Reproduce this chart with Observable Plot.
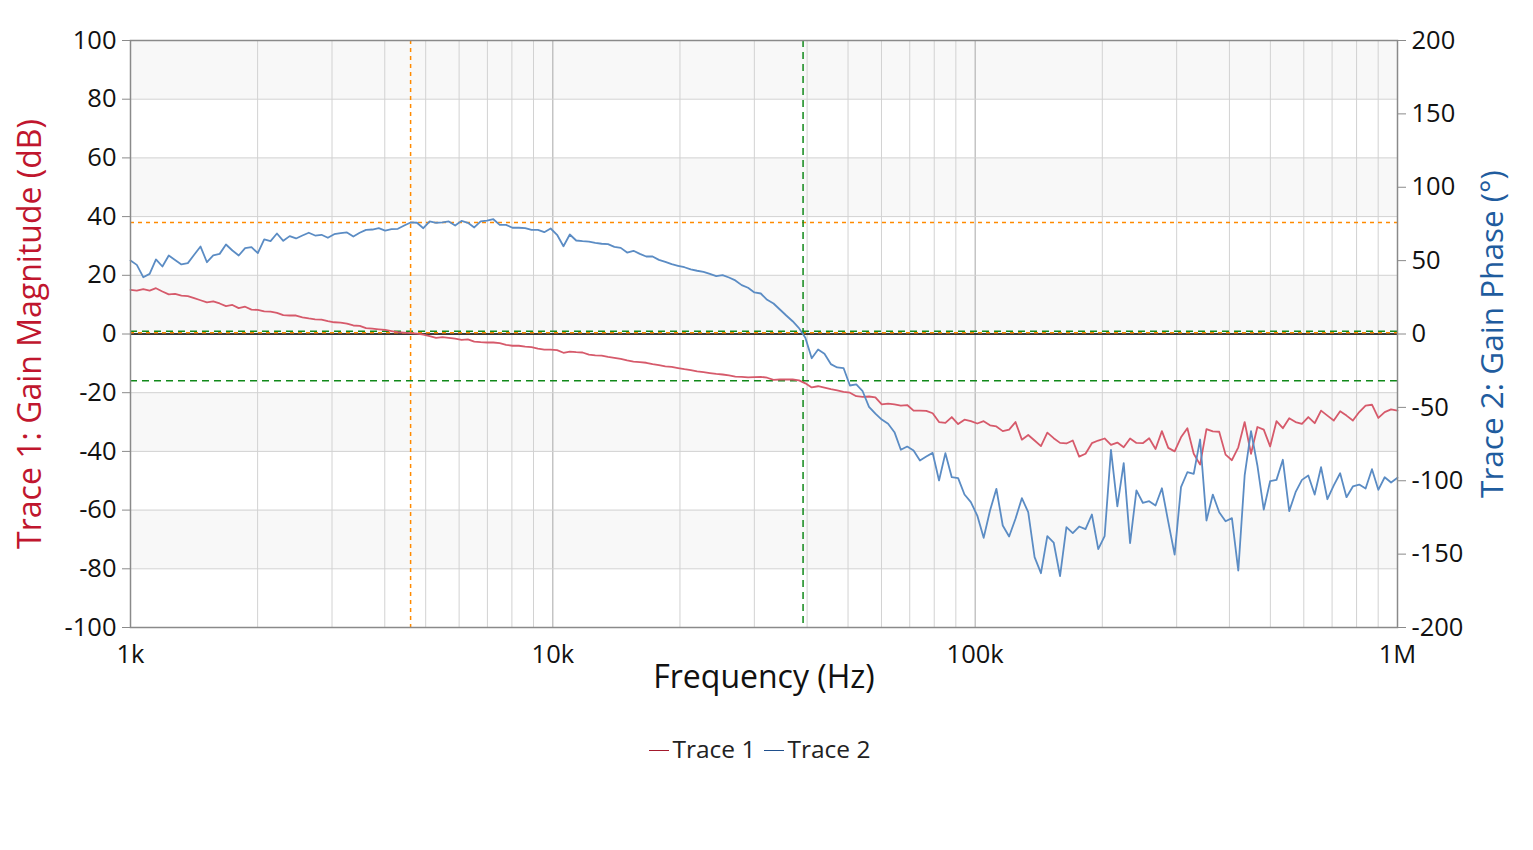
<!DOCTYPE html>
<html>
<head>
<meta charset="utf-8">
<script src="https://cdn.jsdelivr.net/npm/d3@7"></script>
<script src="https://cdn.jsdelivr.net/npm/@observablehq/plot@0.6"></script>
<style>
  html, body { margin: 0; padding: 0; background: #fff; }
  #chart svg { display: block; }
  #legend { width: 1519px; padding-right: 14px; text-align: center; font-family: "Open Sans", sans-serif; font-size: 24.5px; color: #222; padding-top: 28px; line-height: 32px; }
  #legend .sw { display: inline-block; width: 20px; height: 0; border-top: 1.5px solid; vertical-align: middle; margin: 0 4px 0 0; position: relative; top: -1px; }
  #legend .item { margin: 0 4px; }
</style>
</head>
<body>
<div id="chart"></div>
<div id="legend"></div>
<script>
// Frequency sweep points (Hz)
const freq = [
1000, 1035, 1072, 1110, 1149, 1190, 1232, 1275, 1320, 1367,
1415, 1465, 1517, 1570, 1626, 1683, 1743, 1804, 1868, 1934,
2002, 2073, 2146, 2222, 2300, 2382, 2466, 2553, 2643, 2736,
2833, 2933, 3036, 3144, 3255, 3370, 3489, 3612, 3739, 3871,
4008, 4150, 4296, 4448, 4605, 4768, 4936, 5110, 5291, 5478,
5671, 5871, 6079, 6293, 6516, 6746, 6984, 7230, 7486, 7750,
8024, 8307, 8601, 8904, 9219, 9544, 9881, 10234, 10596, 10970,
11358, 11759, 12174, 12604, 13049, 13510, 13987, 14481, 14993, 15522,
16070, 16638, 17225, 17834, 18464, 19116, 19791, 20489, 21213, 21962,
22738, 23541, 24372, 25233, 26124, 27047, 28002, 28991, 30015, 31074,
32172, 33308, 34485, 35702, 36963, 38269, 39620, 41019, 42468, 43968,
45520, 47128, 48792, 50515, 52299, 54146, 56058, 58038, 60088, 62209,
64406, 66681, 69036, 71474, 73998, 76611, 79316, 82117, 85017, 88019,
91128, 94346, 97677, 101160, 104740, 108440, 112270, 116230, 120340, 124590,
128990, 133540, 138260, 143140, 148200, 153430, 158850, 164460, 170270, 176280,
182510, 188950, 195630, 202540, 209690, 217090, 224760, 232700, 240920, 249420,
258230, 267350, 276790, 286570, 296690, 307170, 318020, 329250, 340880, 352910,
365370, 378280, 391640, 405470, 419790, 434610, 449960, 465850, 482300, 499330,
516970, 535220, 554120, 573690, 593950, 614930, 636640, 659120, 682400, 706500,
731450, 757280, 784020, 811700, 840370, 870050, 900770, 932580, 965510, 1000000
];

// Trace 1: Gain Magnitude (dB)
const trace1 = [
15.0, 14.8, 15.3, 14.8, 15.6, 14.5, 13.5, 13.7, 13.1, 12.9,
12.2, 11.5, 10.8, 11.1, 10.4, 9.5, 9.9, 8.8, 9.3, 8.3,
8.2, 7.7, 7.6, 7.2, 6.4, 6.3, 6.3, 5.7, 5.3, 5.0,
4.9, 4.4, 4.0, 3.9, 3.5, 2.9, 2.8, 2.0, 1.8, 1.6,
1.4, 1.0, 0.6, 0.5, 0.3, 0.1, -0.2, -0.7, -1.3, -1.1,
-1.3, -1.6, -2.0, -1.8, -2.6, -2.8, -2.9, -2.9, -3.1, -3.7,
-4.0, -4.0, -4.3, -4.5, -5.0, -5.3, -5.3, -5.5, -6.4, -6.0,
-6.2, -6.3, -7.0, -7.3, -7.4, -7.8, -8.1, -8.5, -9.0, -9.4,
-9.6, -9.8, -10.3, -10.6, -11.0, -11.2, -11.6, -12.0, -12.3, -12.7,
-13.0, -13.3, -13.6, -13.8, -14.1, -14.5, -14.6, -14.8, -14.7, -14.6,
-14.9, -15.6, -15.5, -15.5, -15.5, -15.8, -16.8, -18.2, -17.8, -18.3,
-18.8, -19.2, -19.7, -20.0, -21.2, -21.4, -21.3, -21.6, -24.0, -23.7,
-24.0, -24.4, -24.2, -26.1, -26.1, -26.2, -27.0, -30.0, -30.3, -28.3,
-30.7, -29.2, -29.7, -30.5, -29.7, -31.1, -31.5, -33.1, -32.6, -30.0,
-36.0, -34.4, -36.3, -38.2, -33.6, -35.5, -37.1, -37.3, -36.3, -41.8,
-40.8, -37.2, -36.3, -35.6, -37.8, -37.0, -38.6, -35.6, -37.1, -37.2,
-35.5, -39.2, -33.1, -38.8, -40.0, -35.2, -32.1, -40.8, -44.5, -32.4,
-33.2, -33.3, -41.1, -43.0, -38.6, -30.0, -40.8, -31.7, -32.6, -38.3,
-29.7, -32.1, -28.7, -30.0, -30.6, -28.3, -30.4, -26.1, -27.8, -29.5,
-26.3, -27.8, -29.5, -26.6, -24.4, -24.1, -28.6, -26.6, -25.7, -26.1
];

// Trace 2: Gain Phase (degrees)
const trace2 = [
50.1, 47.1, 38.7, 41.0, 50.8, 46.0, 53.5, 50.5, 47.4, 48.3,
54.0, 59.6, 48.9, 53.5, 54.6, 61.0, 56.9, 53.5, 58.5, 59.2,
55.1, 64.4, 63.3, 68.5, 63.5, 66.7, 65.1, 67.1, 69.0, 67.1,
67.6, 65.6, 68.0, 68.7, 69.2, 66.4, 69.0, 71.0, 71.2, 72.1,
70.5, 71.4, 71.7, 73.9, 76.0, 75.8, 72.1, 76.7, 75.8, 76.0,
76.7, 73.9, 77.1, 75.8, 72.6, 76.7, 77.3, 78.2, 74.4, 74.4,
72.4, 72.4, 72.1, 71.0, 71.0, 69.4, 71.9, 67.6, 59.8, 67.8,
63.7, 63.3, 63.0, 62.1, 61.5, 61.2, 59.4, 58.7, 55.5, 56.7,
54.6, 52.8, 52.8, 50.5, 49.2, 47.6, 46.5, 45.5, 44.0, 43.1,
42.4, 41.0, 39.5, 40.1, 38.5, 36.5, 33.3, 31.5, 28.3, 27.6,
23.3, 20.8, 16.7, 12.6, 8.7, 4.0, -2.6, -16.5, -10.6, -13.5,
-20.5, -22.8, -23.2, -35.1, -34.4, -39.0, -49.6, -54.2, -58.3, -61.2,
-66.9, -78.9, -76.7, -79.4, -86.2, -83.5, -81.0, -99.8, -81.2, -97.6,
-98.2, -109.4, -114.6, -123.7, -138.9, -120.3, -105.5, -130.5, -138.0, -125.9,
-111.9, -121.4, -152.1, -163.0, -137.8, -142.1, -165.0, -131.6, -135.7, -131.2,
-133.0, -123.0, -146.6, -137.8, -78.9, -117.5, -88.0, -142.5, -106.6, -115.0,
-113.9, -116.9, -105.1, -128.0, -150.3, -104.4, -94.2, -95.3, -71.9, -127.1,
-109.4, -121.4, -127.6, -125.5, -161.2, -96.4, -66.2, -89.6, -119.6, -100.3,
-99.4, -85.7, -120.7, -107.8, -99.4, -96.4, -109.4, -90.8, -112.6, -103.2,
-94.9, -111.2, -103.9, -102.6, -105.3, -92.1, -106.2, -97.6, -101.2, -98.0
];

// Axis ticks
const gainTicks = [-100, -80, -60, -40, -20, 0, 20, 40, 60, 80, 100];
const phaseTicks = [-200, -150, -100, -50, 0, 50, 100, 150, 200];
const freqTicks = [1e3, 1e4, 1e5, 1e6];
const freqTickLabels = ["1k", "10k", "100k", "1M"];
const minorFreqGrid = [2e3,3e3,4e3,5e3,6e3,7e3,8e3,9e3, 2e4,3e4,4e4,5e4,6e4,7e4,8e4,9e4, 2e5,3e5,4e5,5e5,6e5,7e5,8e5,9e5];
const majorFreqGrid = [1e4, 1e5];
const bands = [[80,100],[40,60],[0,20],[-40,-20],[-80,-60]];

// Cursor markers
const gainCrossoverHz = 4605;   // orange vertical
const phaseMarginDeg = 76;      // orange horizontal (phase axis)
const orangeZeroDb = 0.4;       // orange horizontal near 0 dB
const phaseCrossoverHz = 39130; // green vertical
const gainMarginDb = -15.9;     // green horizontal
const greenZeroDb = 0.95;       // green horizontal near 0

const data = freq.map((f, i) => ({f, gain: trace1[i], phase: trace2[i]}));
const phaseToY = p => p / 2; // phase axis -200..200 maps onto -100..100

const red = "#d65a6b", blue = "#5b8cc4";
const orange = "#ff8a00", green = "#11891a";

const plot = Plot.plot({
  width: 1533,
  height: 705,
  marginLeft: 130,
  marginRight: 136,
  marginTop: 40,
  marginBottom: 78,
  style: {fontFamily: "'Open Sans', sans-serif", fontSize: "25.5px", color: "#111", background: "#fff"},
  x: {type: "log", domain: [1e3, 1e6]},
  y: {domain: [-100, 100]},
  marks: [
    Plot.rect(bands, {x1: () => 1e3, x2: () => 1e6, y1: d => d[0], y2: d => d[1], fill: "#f8f8f8"}),
    Plot.ruleX(minorFreqGrid, {stroke: "#d2d2d2", strokeWidth: 1}),
    Plot.ruleX(majorFreqGrid, {stroke: "#a8a8a8", strokeWidth: 1}),
    Plot.ruleY(gainTicks, {stroke: "#d2d2d2", strokeWidth: 1}),
    Plot.ruleY([0], {stroke: "#000", strokeWidth: 1.6}),
    Plot.ruleY([orangeZeroDb], {stroke: orange, strokeWidth: 1.5, strokeDasharray: "4,4"}),
    Plot.ruleY([greenZeroDb], {stroke: green, strokeWidth: 1.5, strokeDasharray: "7,5"}),
    Plot.ruleY([phaseToY(phaseMarginDeg)], {stroke: orange, strokeWidth: 1.5, strokeDasharray: "4,4"}),
    Plot.ruleY([gainMarginDb], {stroke: green, strokeWidth: 1.5, strokeDasharray: "7,5"}),
    Plot.ruleX([gainCrossoverHz], {stroke: orange, strokeWidth: 1.5, strokeDasharray: "4,4"}),
    Plot.ruleX([phaseCrossoverHz], {stroke: green, strokeWidth: 1.5, strokeDasharray: "7,5"}),
    Plot.line(data, {x: "f", y: "gain", stroke: red, strokeWidth: 1.8}),
    Plot.line(data, {x: "f", y: d => phaseToY(d.phase), stroke: blue, strokeWidth: 1.8}),
    Plot.frame({stroke: "#8a8a8a", strokeWidth: 1.5}),
    Plot.axisY(gainTicks, {anchor: "left", tickSize: 8, tickPadding: 6, stroke: "#8a8a8a", fill: "#111", tickFormat: d => String(d), label: null}),
    Plot.axisY(phaseTicks.map(phaseToY), {anchor: "right", tickSize: 8, tickPadding: 6, stroke: "#8a8a8a", fill: "#111", tickFormat: d => String(d * 2), label: null}),
    Plot.axisX(freqTicks, {anchor: "bottom", tickSize: 0, tickPadding: 17, fill: "#111", tickFormat: d => freqTickLabels[freqTicks.indexOf(d)], label: null}),
    Plot.text(["Trace 1: Gain Magnitude (dB)"], {frameAnchor: "left", dx: -100, rotate: -90, fontSize: 32, fill: "#c0162e", textAnchor: "middle"}),
    Plot.text(["Trace 2: Gain Phase (°)"], {frameAnchor: "right", dx: 95, rotate: -90, fontSize: 31.5, fill: "#1f5c9e", textAnchor: "middle"}),
    Plot.text(["Frequency (Hz)"], {frameAnchor: "bottom", dy: 60, fontSize: 32, fill: "#111", textAnchor: "middle"})
  ]
});
document.getElementById("chart").appendChild(plot);

const legend = document.getElementById("legend");
legend.innerHTML =
  '<span class="item"><span class="sw" style="border-color:#a3192c"></span>Trace 1</span>' +
  '<span class="item"><span class="sw" style="border-color:#1f4f8c"></span>Trace 2</span>';
</script>
</body>
</html>
